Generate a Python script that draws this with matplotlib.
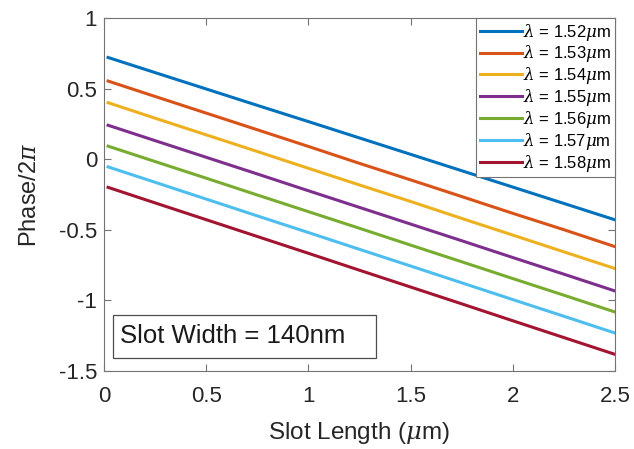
import matplotlib
matplotlib.use("Agg")
import matplotlib.pyplot as plt
from matplotlib.patches import Rectangle

plt.rcParams['font.family'] = ['Liberation Sans', 'DejaVu Sans']
plt.rcParams['mathtext.fontset'] = 'custom'
plt.rcParams['mathtext.it'] = 'DejaVu Serif:italic'

# slot length (um)
slot_length = [0.02, 0.25, 0.5, 0.75, 1.0, 1.25, 1.5, 1.75, 2.0, 2.25, 2.5]

# phase / 2pi
phase_152 = [0.72, 0.613, 0.497, 0.381, 0.266, 0.150, 0.034, -0.082, -0.198, -0.314, -0.43]
phase_153 = [0.553, 0.444, 0.326, 0.208, 0.090, -0.030, -0.147, -0.265, -0.384, -0.500, -0.62]
phase_154 = [0.40, 0.290, 0.172, 0.054, -0.065, -0.183, -0.300, -0.420, -0.538, -0.657, -0.775]
phase_155 = [0.24, 0.131, 0.013, -0.105, -0.224, -0.342, -0.460, -0.578, -0.697, -0.815, -0.934]
phase_156 = [0.092, -0.017, -0.135, -0.254, -0.372, -0.490, -0.609, -0.727, -0.846, -0.964, -1.083]
phase_157 = [-0.055, -0.164, -0.283, -0.402, -0.520, -0.639, -0.757, -0.876, -0.995, -1.113, -1.232]
phase_158 = [-0.20, -0.310, -0.429, -0.548, -0.667, -0.787, -0.906, -1.025, -1.145, -1.264, -1.383]

wavelengths = ['1.52', '1.53', '1.54', '1.55', '1.56', '1.57', '1.58']
series = [phase_152, phase_153, phase_154, phase_155, phase_156, phase_157, phase_158]
colors = ['#0072BD', '#D95319', '#EDB120', '#7E2F8E', '#77AC30', '#4DBEEE', '#A2142F']

fig = plt.figure(figsize=(6.34, 4.49), dpi=100)
ax = fig.add_axes([0.164, 0.174, 0.806, 0.786])

for wl, ys, c in zip(wavelengths, series, colors):
    ax.plot(slot_length, ys, color=c, linewidth=2.2, label=r'$\lambda$ = ' + wl + r'$\mu$m')

ax.set_xlim(0, 2.5)
ax.set_ylim(-1.5, 1)
ax.set_xticks([0, 0.5, 1, 1.5, 2, 2.5])
ax.set_xticklabels(['0', '0.5', '1', '1.5', '2', '2.5'])
ax.set_yticks([-1.5, -1, -0.5, 0, 0.5, 1])
ax.set_yticklabels(['-1.5', '-1', '-0.5', '0', '0.5', '1'])
ax.tick_params(direction='in', length=5, width=0.8, labelsize=16, top=True, right=True,
               color='0.45', labelcolor='#262626')
ax.tick_params(axis='y', pad=5)
ax.tick_params(axis='x', pad=11)
for s in ax.spines.values():
    s.set_color('0.45')
    s.set_linewidth(0.8)

ax.set_xlabel(r'Slot Length ($\mu$m)', fontsize=17.5, color='#262626', labelpad=9)
ax.set_ylabel(r'Phase/2$\pi$', fontsize=17, color='#262626', labelpad=13)

leg = ax.legend(loc='upper right', fontsize=12, handlelength=2.5, handletextpad=0.1,
                labelspacing=0.05, borderaxespad=0, fancybox=False, framealpha=1,
                borderpad=0.22)
leg.get_frame().set_edgecolor('0.45')
leg.get_frame().set_linewidth(0.8)

# annotation box
ax.add_patch(Rectangle((0.0176, 0.037), 0.515, 0.122, transform=ax.transAxes,
                       facecolor='white', edgecolor='0.3', linewidth=0.9, zorder=5))
ax.text(0.031, 0.098, 'Slot Width = 140nm', transform=ax.transAxes, fontsize=18.5,
        color='#1a1a1a', va='center', ha='left', zorder=6)

fig.savefig('out.png', dpi=100)
